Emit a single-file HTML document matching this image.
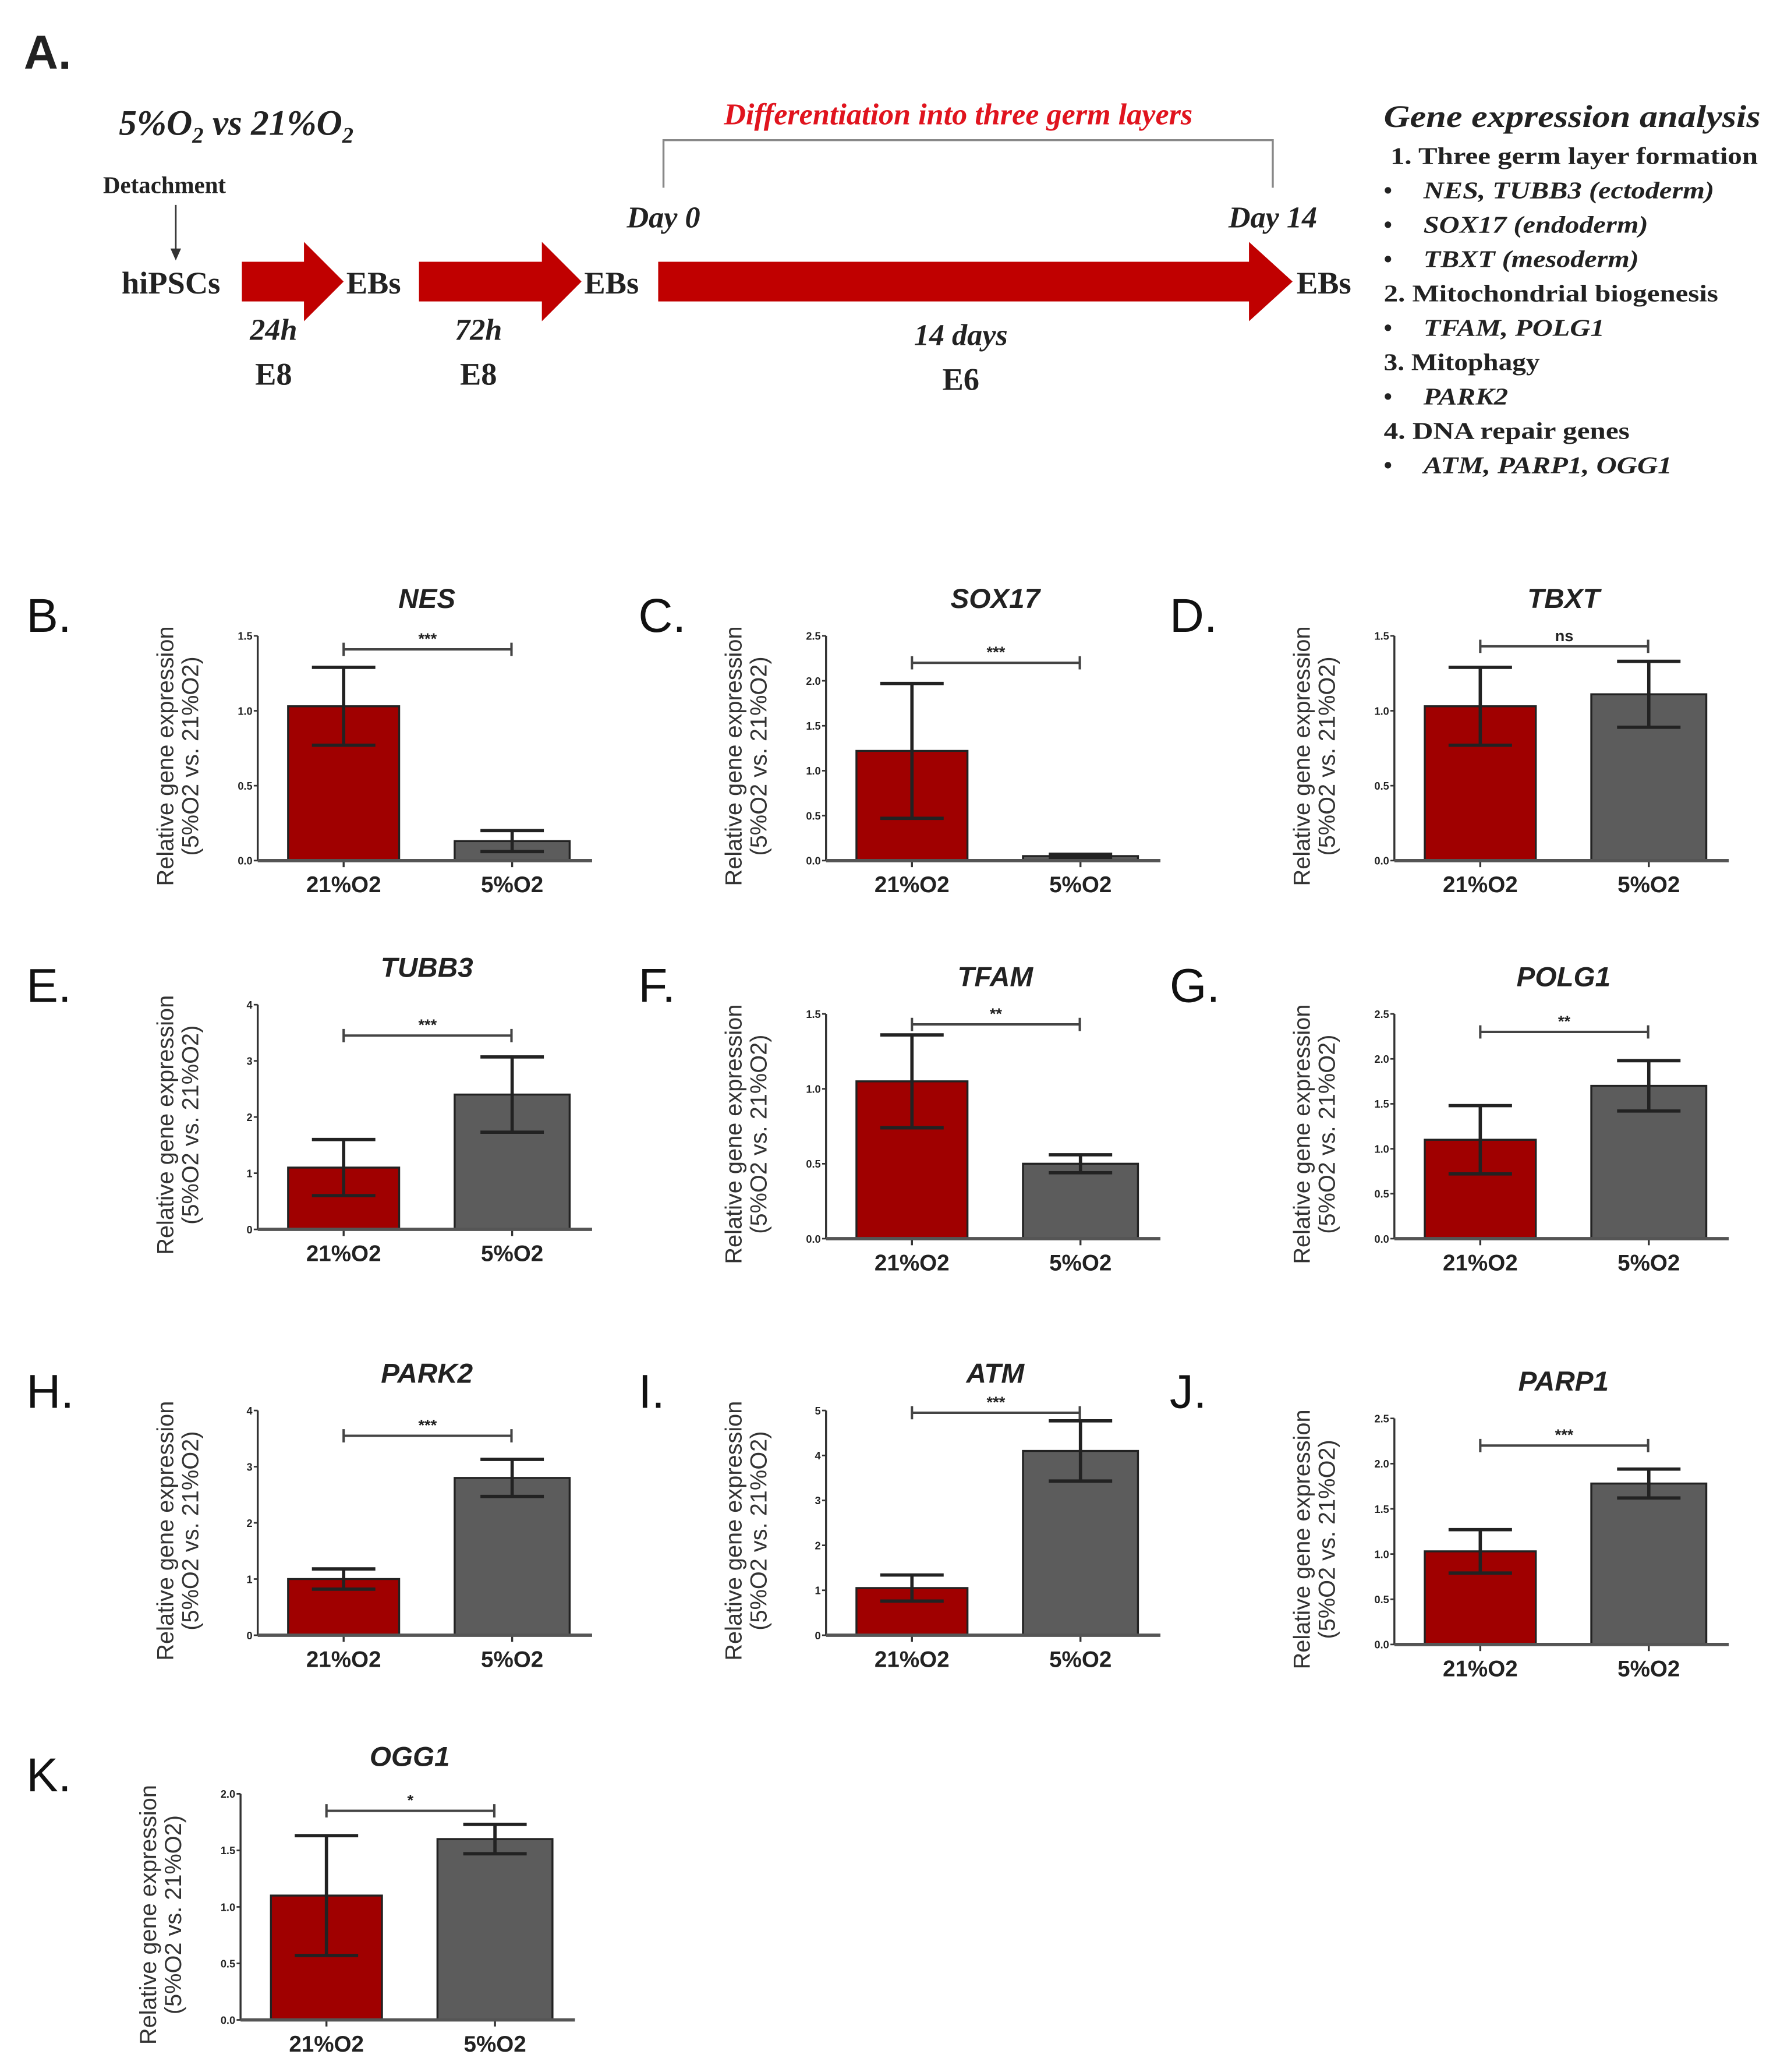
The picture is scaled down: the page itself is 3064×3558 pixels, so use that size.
<!DOCTYPE html>
<html><head><meta charset="utf-8"><style>
html,body{margin:0;padding:0;background:#fff;}
svg{display:block;}
.ser{font-family:"Liberation Serif",serif;font-weight:bold;fill:#222;}
.san{font-family:"Liberation Sans",sans-serif;font-weight:bold;fill:#222;}
</style></head><body>
<svg id="fig" width="3064" height="3558" viewBox="0 0 1349.8 1567.4" xmlns="http://www.w3.org/2000/svg">
<g>
<text class="san" x="18" y="52" font-size="36" font-weight="normal">A.</text>
<text class="ser" x="90" y="102" font-size="27" font-style="italic">5%O<tspan font-size="17" dy="6">2</tspan><tspan dy="-6"> vs 21%O</tspan><tspan font-size="17" dy="6">2</tspan></text>
<text class="ser" x="78" y="146" font-size="18">Detachment</text>
<line x1="133" y1="155" x2="133" y2="192" stroke="#333" stroke-width="1.2"/>
<polygon points="129,188 137,188 133,197" fill="#333"/>
<text class="ser" x="92" y="222" font-size="24">hiPSCs</text>
<polygon points="183,198 230,198 230,183 260,213 230,243 230,228 183,228" fill="#c00000"/>
<text class="ser" x="262" y="222" font-size="24">EBs</text>
<polygon points="317,198 410,198 410,183 440,213 410,243 410,228 317,228" fill="#c00000"/>
<text class="ser" x="442" y="222" font-size="24">EBs</text>
<polygon points="498,198 945,198 945,183 978,213 945,243 945,228 498,228" fill="#c00000"/>
<text class="ser" x="981" y="222" font-size="24">EBs</text>
<text class="ser" x="207" y="257" font-size="23" font-style="italic" text-anchor="middle">24h</text>
<text class="ser" x="207" y="291" font-size="24" text-anchor="middle">E8</text>
<text class="ser" x="362" y="257" font-size="23" font-style="italic" text-anchor="middle">72h</text>
<text class="ser" x="362" y="291" font-size="24" text-anchor="middle">E8</text>
<text class="ser" x="727" y="261" font-size="23" font-style="italic" text-anchor="middle">14 days</text>
<text class="ser" x="727" y="295" font-size="24" text-anchor="middle">E6</text>
<text class="ser" x="502" y="172" font-size="23" font-style="italic" text-anchor="middle">Day 0</text>
<text class="ser" x="963" y="172" font-size="23" font-style="italic" text-anchor="middle">Day 14</text>
<path d="M502,142 V106 H963 V142" fill="none" stroke="#888" stroke-width="1.5"/>
<text class="ser" x="725" y="94" font-size="23" font-style="italic" text-anchor="middle" style="fill:#e0141e">Differentiation into three germ layers</text>
<g>
<text class="ser" x="1047" y="96" font-size="24" font-style="italic" font-weight="normal" textLength="285" lengthAdjust="spacingAndGlyphs">Gene expression analysis</text>
<text class="ser" x="1052" y="124" font-size="18" textLength="278" lengthAdjust="spacingAndGlyphs">1. Three germ layer formation</text>
<text class="ser" x="1047" y="150" font-size="18">•</text><text class="ser" x="1077" y="150" font-size="18" font-style="italic" textLength="220" lengthAdjust="spacingAndGlyphs">NES, TUBB3 (ectoderm)</text>
<text class="ser" x="1047" y="176" font-size="18">•</text><text class="ser" x="1077" y="176" font-size="18" font-style="italic" textLength="170" lengthAdjust="spacingAndGlyphs">SOX17 (endoderm)</text>
<text class="ser" x="1047" y="202" font-size="18">•</text><text class="ser" x="1077" y="202" font-size="18" font-style="italic" textLength="163" lengthAdjust="spacingAndGlyphs">TBXT (mesoderm)</text>
<text class="ser" x="1047" y="228" font-size="18" textLength="253" lengthAdjust="spacingAndGlyphs">2. Mitochondrial biogenesis</text>
<text class="ser" x="1047" y="254" font-size="18">•</text><text class="ser" x="1077" y="254" font-size="18" font-style="italic" textLength="137" lengthAdjust="spacingAndGlyphs">TFAM, POLG1</text>
<text class="ser" x="1047" y="280" font-size="18" textLength="118" lengthAdjust="spacingAndGlyphs">3. Mitophagy</text>
<text class="ser" x="1047" y="306" font-size="18">•</text><text class="ser" x="1077" y="306" font-size="18" font-style="italic" textLength="64" lengthAdjust="spacingAndGlyphs">PARK2</text>
<text class="ser" x="1047" y="332" font-size="18" textLength="186" lengthAdjust="spacingAndGlyphs">4. DNA repair genes</text>
<text class="ser" x="1047" y="358" font-size="18">•</text><text class="ser" x="1077" y="358" font-size="18" font-style="italic" textLength="188" lengthAdjust="spacingAndGlyphs">ATM, PARP1, OGG1</text>
</g>
</g>
<g id="charts"></g>
</svg>
<script>
const genes = ["NES","SOX17","TBXT","TUBB3","TFAM","POLG1","PARK2","ATM","PARP1","OGG1"];
const letters = ["B.","C.","D.","E.","F.","G.","H.","I.","J.","K."];
const categories = ["21%O2","5%O2"];
const mean21 = [1.03,1.22,1.03,1.1,1.05,1.1,1.0,1.05,1.03,1.1];
const err21 = [0.26,0.75,0.26,0.5,0.31,0.38,0.18,0.29,0.24,0.53];
const mean5 = [0.13,0.05,1.11,2.4,0.5,1.7,2.8,4.1,1.78,1.6];
const err5 = [0.07,0.02,0.22,0.67,0.06,0.28,0.33,0.67,0.16,0.13];
const yMax = [1.5,2.5,1.5,4,1.5,2.5,4,5,2.5,2.0];
const tickStep = [0.5,0.5,0.5,1,0.5,0.5,1,1,0.5,0.5];
const sigLabels = ["***","***","ns","***","**","**","***","***","***","*"];
const sigValue = [1.41,2.2,1.43,3.45,1.43,2.3,3.55,4.95,2.2,1.85];

const layout = [[195,481,651,20,465],[625,481,651,483,465],[1055,481,651,885,465],
 [195,760,930,20,745],[625,767,937,483,745],[1055,767,937,885,745],
 [195,1067,1237,20,1052],[625,1067,1237,483,1052],[1055,1073,1244,885,1052],
 [182,1357,1528,20,1342]];
const NS="http://www.w3.org/2000/svg";
const root=document.getElementById('charts');
function mk(tag,attrs,parent,text){const e=document.createElementNS(NS,tag);for(const k in attrs)e.setAttribute(k,attrs[k]);if(text!==undefined)e.textContent=text;parent.appendChild(e);return e;}
genes.forEach((g,i)=>{
  const [ax,top,zero,lx,ly]=layout[i];
  const y=v=>zero-(v/yMax[i])*(zero-top);
  const gp=mk('g',{},root);
  
  
  const pl=mk('text',{x:lx,y:ly+13,'font-size':36,'font-family':'Liberation Sans, sans-serif',fill:'#111'},gp,letters[i]);
  
  
  const t=mk('text',{x:ax+128,y:top-21,'font-size':21,'font-style':'italic','text-anchor':'middle',class:'san'},gp,g);
  
  
  const yt=mk('text',{transform:`translate(${ax-64},${(top+zero)/2+6}) rotate(-90)`,'font-size':17.5,'text-anchor':'middle',class:'san',style:'font-weight:normal;fill:#333'},gp);
  
  
  mk('tspan',{x:0,dy:0},yt,'Relative gene expression');
  mk('tspan',{x:0,dy:19},yt,'(5%O2 vs. 21%O2)');
  const bars=[[mean21[i],err21[i],'#a00000',23,107],[mean5[i],err5[i],'#5c5c5c',149,236]];
  bars.forEach((b,j)=>{
    const r=mk('rect',{x:ax+b[3],y:y(b[0]),width:b[4]-b[3],height:zero-y(b[0]),fill:b[2],stroke:'#222','stroke-width':1.5},gp);
    
    
    const cx=ax+(b[3]+b[4])/2;
    const eb=mk('path',{d:`M${cx},${y(b[0]+b[1])}V${y(b[0]-b[1])}M${cx-24},${y(b[0]+b[1])}H${cx+24}M${cx-24},${y(b[0]-b[1])}H${cx+24}`,stroke:'#222','stroke-width':2.5,fill:'none'},gp);
    
    
    const cl=mk('text',{x:cx,y:zero+24,'font-size':17,'text-anchor':'middle',class:'san'},gp,categories[j]);
    
    
    mk('line',{x1:cx,y1:zero,x2:cx,y2:zero+5,stroke:'#333','stroke-width':1.5},gp);
  });
  mk('line',{x1:ax,y1:top,x2:ax,y2:zero,stroke:'#333','stroke-width':1.5},gp);
  mk('line',{x1:ax,y1:zero,x2:ax+253,y2:zero,stroke:'#555','stroke-width':2.5},gp);
  for(let v=0;v<=yMax[i]+1e-9;v+=tickStep[i]){
    mk('line',{x1:ax-3,y1:y(v),x2:ax,y2:y(v),stroke:'#333','stroke-width':1.2},gp);
    const tl=mk('text',{x:ax-4,y:y(v)+3,'font-size':8,'text-anchor':'end',class:'san'},gp,tickStep[i]<1?v.toFixed(1):String(Math.round(v)));
    
    
  }
  const sy=y(sigValue[i]);
  const c1=ax+65,c2=ax+192;
  const br=mk('path',{d:`M${c1},${sy}H${c2}M${c1},${sy-5}V${sy+5}M${c2},${sy-5}V${sy+5}`,stroke:'#444','stroke-width':1.8,fill:'none'},gp);
  
  
  const st=mk('text',{x:(c1+c2)/2,y:sy-4,'font-size':12,'text-anchor':'middle',class:'san'},gp,sigLabels[i]);
  
  
});
</script>
</body></html>
